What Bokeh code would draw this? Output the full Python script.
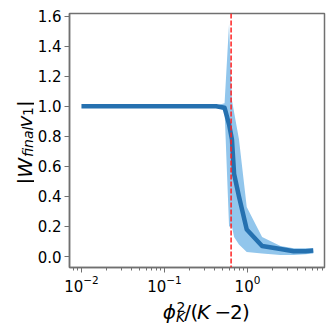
import math
from bokeh.plotting import figure
from bokeh.layouts import row, column
from bokeh.models import Range1d, Span, Label, FixedTicker, LogTicker, PrintfTickFormatter, ColumnDataSource
from bokeh.embed import file_html
from bokeh.resources import INLINE

# ---- data ----
ratio = [0.01, 0.02, 0.05, 0.1, 0.2, 0.3, 0.42, 0.53, 0.60, 0.65, 0.69, 0.79, 0.98, 1.5, 2.5, 3.6, 5.0, 6.2]
mean_overlap = [1.0, 1.0, 1.0, 1.0, 1.0, 1.0, 1.0, 0.99, 0.88, 0.78, 0.55, 0.40, 0.18, 0.07, 0.05, 0.035, 0.035, 0.04]
upper_band = [1.0, 1.0, 1.0, 1.0, 1.0, 1.002, 1.006, 1.02, 1.55, 1.04, 0.96, 0.78, 0.33, 0.13, 0.07, 0.055, 0.055, 0.055]
lower_band = [1.0, 1.0, 1.0, 1.0, 1.0, 0.998, 0.994, 0.97, 0.20, 0.20, 0.13, 0.08, 0.03, 0.02, 0.01, 0.01, 0.015, 0.02]
threshold = 0.635
y_ticks = [0.0, 0.2, 0.4, 0.6, 0.8, 1.0, 1.2, 1.4, 1.6]

# ---- layout (page coordinates) ----
W, H = 332, 329
YL_W = 34          # width of the y-label strip
MAIN_H = 295       # height of the main figure
LX0, LX1 = -2.144, 0.928
Y0, Y1 = -0.073, 1.618
FL, FR, FT, FB = 68, 324, 13, 267

p = figure(width=W - YL_W, height=MAIN_H, output_backend="svg", toolbar_location=None,
           x_axis_type="log",
           x_range=Range1d(10 ** LX0, 10 ** LX1), y_range=Range1d(Y0, Y1),
           min_border_left=FL - YL_W, min_border_right=W - FR, min_border_top=FT,
           min_border_bottom=MAIN_H - FB)
p.grid.visible = False
p.background_fill_color = "white"
p.border_fill_color = "white"
p.outline_line_color = "#707070"
p.outline_line_width = 1.5

src = ColumnDataSource(dict(x=ratio, m=mean_overlap, lo=lower_band, hi=upper_band))
p.varea(x="x", y1="lo", y2="hi", source=src, fill_color="#92c6ec", fill_alpha=1.0)
p.line(x="x", y="m", source=src, line_color="#2571b0", line_width=4.5, line_join="round")
p.add_layout(Span(location=threshold, dimension="height", line_color="#ff2020",
                  line_width=1.5, line_dash="5 2"))

for ax in (p.xaxis[0], p.yaxis[0]):
    ax.axis_line_color = "#707070"
    ax.axis_line_width = 1.5
    ax.major_tick_line_color = "#707070"
    ax.minor_tick_line_color = "#707070"
    ax.major_tick_in = 0
    ax.major_tick_out = 5
    ax.minor_tick_in = 0
    ax.minor_tick_out = 3
    ax.major_label_text_font = "DejaVu Sans"
    ax.major_label_text_font_size = "15px"
    ax.major_label_text_color = "black"
    ax.major_label_standoff = 4

p.yaxis[0].ticker = FixedTicker(ticks=y_ticks)
p.yaxis[0].formatter = PrintfTickFormatter(format="%.1f")
p.yaxis[0].minor_tick_line_color = None
p.yaxis[0].major_label_standoff = 3
p.xaxis[0].ticker = LogTicker(num_minor_ticks=10)
p.xaxis[0].major_label_standoff = 2


def text_strip(w, h):
    f = figure(width=w, height=h, output_backend="svg", toolbar_location=None,
               x_range=Range1d(0, w), y_range=Range1d(0, h),
               x_axis_location=None, y_axis_location=None,
               min_border_left=0, min_border_right=0, min_border_top=0, min_border_bottom=0)
    f.grid.visible = False
    f.outline_line_color = None
    f.background_fill_color = "white"
    f.border_fill_color = "white"
    return f


yfig = text_strip(YL_W, H)
xfig = text_strip(W - YL_W, H - MAIN_H)


def lab(fig, x0, px, py, text, size, italic=False, angle=0.0):
    fig.add_layout(Label(x=px - x0, y=H - py, text=text, angle=angle,
                         text_font="DejaVu Sans", text_font_size=f"{size}px",
                         text_font_style="italic" if italic else "normal",
                         text_align="left", text_baseline="alphabetic", text_color="black"))


# y label: |W_final v_1| rotated
A = math.pi / 2
lab(yfig, 0, 24, 184, "|", 20, angle=A)
lab(yfig, 0, 24, 177.3, "W", 20, True, A)
lab(yfig, 0, 27, 156.5, "final", 14, True, A)
lab(yfig, 0, 24, 127.0, "v", 20, True, A)
lab(yfig, 0, 27, 115.5, "1", 14, False, A)
lab(yfig, 0, 24, 106.6, "|", 20, angle=A)

# x label: phi^2_K/(K - 2)
lab(xfig, YL_W, 143, 311, "\u03d5", 20, True)
lab(xfig, YL_W, 159, 306, "2", 14)
lab(xfig, YL_W, 158.5, 316, "K", 14, True)
lab(xfig, YL_W, 168, 311, "/", 20)
lab(xfig, YL_W, 175.5, 311, "(", 20)
lab(xfig, YL_W, 183, 311, "K", 20, True)
lab(xfig, YL_W, 203.5, 311, "\u2212", 20)
lab(xfig, YL_W, 221.5, 311, "2", 20)
lab(xfig, YL_W, 235.5, 311, ")", 20)

layout = row(yfig, column(p, xfig))
open("out.html", "w").write(file_html(layout, INLINE))
